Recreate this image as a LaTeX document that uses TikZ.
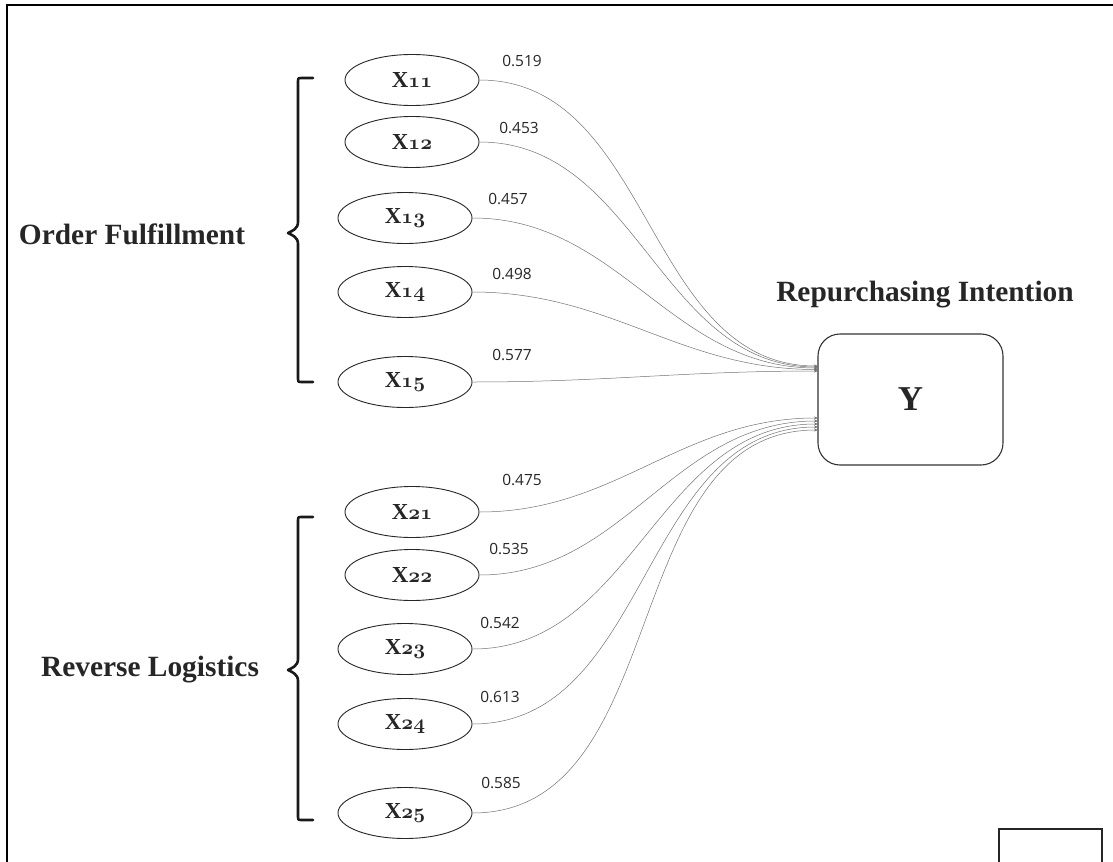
\documentclass[tikz,border=0pt]{standalone}
\usepackage{fontspec}
\newfontfamily\labfont{Open Sans}
\newfontfamily\serifb{Liberation Serif}[BoldFont={Liberation Serif Bold}]
\usetikzlibrary{shapes.geometric,arrows.meta}
\newcommand{\osd}[1]{{\usefont{OML}{cmm}{b}{it}\fontsize{20.74}{21}\selectfont#1}}
\newcommand{\xv}[1]{{\serifb\bfseries X}\osd{#1}}
\begin{document}
\begin{tikzpicture}[x=1bp,y=-1bp,
  frameline/.style={line width=2bp,draw=black},
  obs/.style={ellipse,draw=black!85,line width=0.9bp,minimum width=134bp,minimum height=51bp,inner sep=0pt,
    font=\fontsize{23}{24}\selectfont,text=black!85},
  yframe/.style={draw=black!80,line width=1.1bp,rounded corners=22bp,minimum width=185bp,minimum height=131bp,
    font=\serifb\fontsize{35}{36}\selectfont\bfseries,text=black!85},
  title/.style={font=\serifb\fontsize{29.5}{30}\selectfont\bfseries,text=black!85,inner sep=0pt},
  wt/.style={font=\labfont\fontsize{15.5}{16}\selectfont,text=black!85,inner sep=0pt},
  conn/.style={draw=black!55,line width=0.5bp,-{Stealth[length=4bp,width=3bp]},out=0,in=180},
  brace/.style={draw=black!90,line width=2.6bp,line cap=round,line join=round}]
\useasboundingbox (0,0) rectangle (1113,862);
% outer frame
\draw[frameline] (7,862) -- (7,5) -- (1113,5);
\draw[draw=black!85,line width=1.2bp] (999,862) -- (999,829) -- (1102,829) -- (1102,862);
% observed variables
\node[obs] (x11) at (412,80) {\xv{11}};
\node[obs] (x12) at (412,142) {\xv{12}};
\node[obs] (x13) at (405,218) {\xv{13}};
\node[obs] (x14) at (405,292) {\xv{14}};
\node[obs] (x15) at (405,382) {\xv{15}};
\node[obs] (x21) at (412,512) {\xv{21}};
\node[obs] (x22) at (412,575) {\xv{22}};
\node[obs] (x23) at (405,649) {\xv{23}};
\node[obs] (x24) at (405,724) {\xv{24}};
\node[obs] (x25) at (405,813) {\xv{25}};
% target
\node[yframe] (y) at (910.5,399.5) {Y};
\node[title] (ytitle) at (925,295) {Repurchasing Intention};
\node[title] (of) at (132,234) {Order Fulfillment};
\node[title] (rl) at (150,670) {Reverse Logistics};
% arrow end points
\coordinate (t1) at (818,366);
\coordinate (t2) at (818,367);
\coordinate (t3) at (818,368);
\coordinate (t4) at (818,369.5);
\coordinate (t5) at (818,371);
\coordinate (b1) at (818,418);
\coordinate (b2) at (818,421);
\coordinate (b3) at (818,424);
\coordinate (b4) at (818,427);
\coordinate (b5) at (818,430);
\draw[conn] (x11.east) to (t1);
\draw[conn] (x12.east) to (t2);
\draw[conn] (x13.east) to (t3);
\draw[conn] (x14.east) to (t4);
\draw[conn] (x15.east) to (t5);
\draw[conn] (x21.east) to (b1);
\draw[conn] (x22.east) to (b2);
\draw[conn] (x23.east) to (b3);
\draw[conn] (x24.east) to (b4);
\draw[conn] (x25.east) to (b5);
% weights
\node[wt] (w11) at (522,61) {0.519};
\node[wt] (w12) at (519,128) {0.453};
\node[wt] (w13) at (508,199) {0.457};
\node[wt] (w14) at (512,274) {0.498};
\node[wt] (w15) at (512,355) {0.577};
\node[wt] (w21) at (522,480) {0.475};
\node[wt] (w22) at (509,549) {0.535};
\node[wt] (w23) at (500,623) {0.542};
\node[wt] (w24) at (500,697) {0.613};
\node[wt] (w25) at (501,783) {0.585};
% braces
\draw[brace] (313,78) -- (301,78) .. controls (298,78) .. (298,81) -- (298,222)
  .. controls (298,229) and (292,231) .. (288,233)
  .. controls (292,235) and (298,237) .. (298,244) -- (298,379)
  .. controls (298,382) .. (301,382) -- (313,382);
\draw[brace] (313,517) -- (301,517) .. controls (298,517) .. (298,520) -- (298,659)
  .. controls (298,666) and (292,668) .. (288,670)
  .. controls (292,672) and (298,674) .. (298,681) -- (298,817)
  .. controls (298,820) .. (301,820) -- (313,820);
\end{tikzpicture}
\end{document}
